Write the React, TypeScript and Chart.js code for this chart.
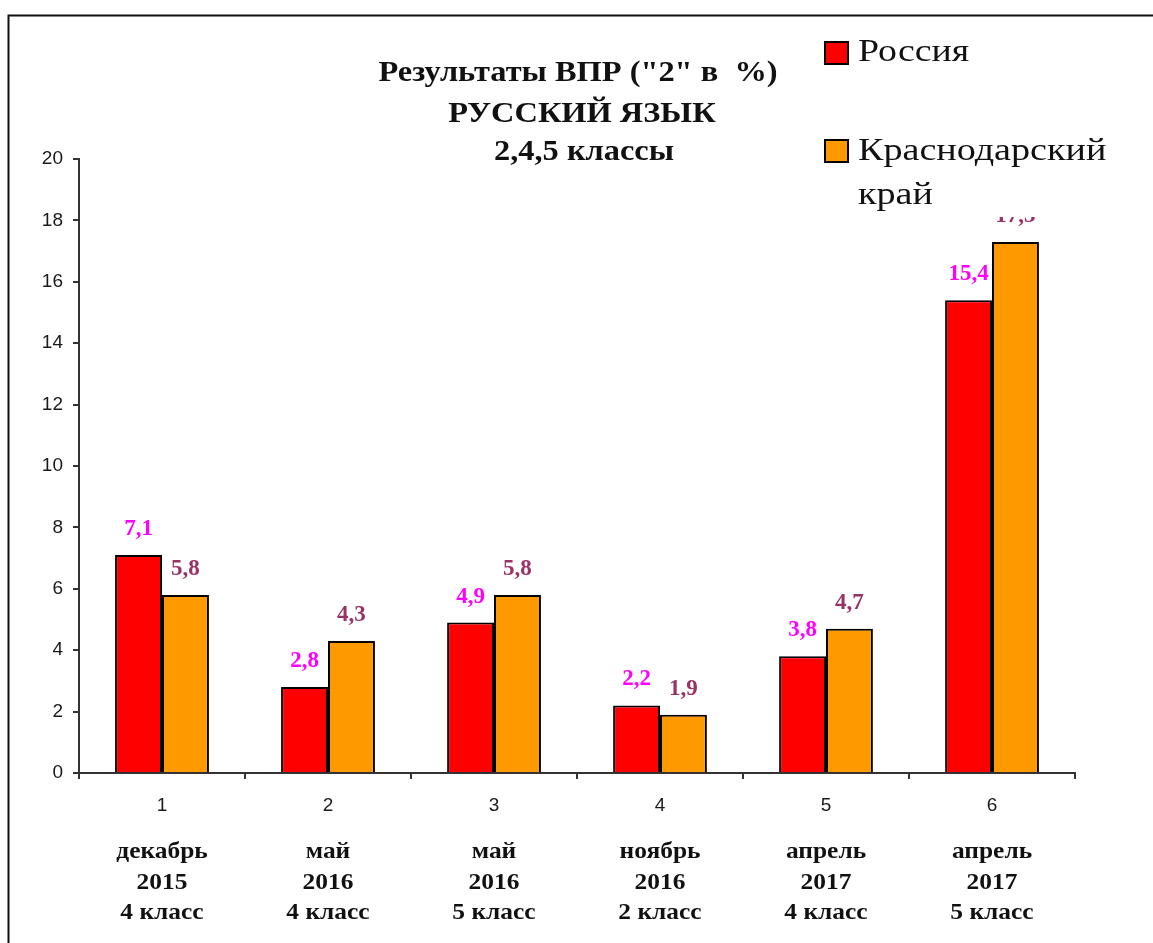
import React, { useEffect, useRef } from "react";
import { Chart, registerables } from "chart.js";

Chart.register(...registerables);

const categories = ["1", "2", "3", "4", "5", "6"];
const months = ["декабрь", "май", "май", "ноябрь", "апрель", "апрель"];
const years = ["2015", "2016", "2016", "2016", "2017", "2017"];
const grades = ["4 класс", "4 класс", "5 класс", "2 класс", "4 класс", "5 класс"];
const russia = [7.1, 2.8, 4.9, 2.2, 3.8, 15.4];
const krasnodar = [5.8, 4.3, 5.8, 1.9, 4.7, 17.3];
const seriesNames = ["Россия", "Краснодарский край"];
const titleLines = ['Результаты ВПР ("2" в  %)', "РУССКИЙ ЯЗЫК", "2,4,5 классы"];
const yTicks = [0, 2, 4, 6, 8, 10, 12, 14, 16, 18, 20];

const SERIF = '"Liberation Serif", "Times New Roman", serif';
const SANS = '"Liberation Sans", Arial, sans-serif';
const RED = "#FF0000";
const ORANGE = "#FF9900";
const LABEL_COLORS = ["#FF00FF", "#993366"];

const fmt = (v: number) => String(v).replace(".", ",");

function stretchedText(ctx: any, text: string, x: number, y: number, sx: number, align: string) {
  ctx.save();
  ctx.translate(x, y);
  ctx.scale(sx, 1);
  ctx.textAlign = align;
  ctx.fillText(text, 0, 0);
  ctx.restore();
}

const decorPlugin = {
  id: "decor",
  beforeDraw(chart: any) {
    const ctx = chart.ctx;
    ctx.save();
    ctx.fillStyle = "#ffffff";
    ctx.fillRect(0, 0, chart.width, chart.height);
    ctx.strokeStyle = "#111";
    ctx.lineWidth = 2;
    ctx.strokeRect(8.5, 15.5, 2000, 2000);
    ctx.restore();
  },
  afterDatasetsDraw(chart: any) {
    const ctx = chart.ctx;
    ctx.save();
    ctx.font = `bold 23px ${SERIF}`;
    ctx.textAlign = "center";
    ctx.textBaseline = "middle";
    chart.data.datasets.forEach((ds: any, di: number) => {
      const meta = chart.getDatasetMeta(di);
      ctx.fillStyle = LABEL_COLORS[di];
      meta.data.forEach((el: any, i: number) => {
        ctx.fillText(fmt(ds.data[i]), el.x, el.y - 26);
      });
    });
    ctx.restore();
  },
  afterDraw(chart: any) {
    const ctx = chart.ctx;
    const xs = chart.scales.x;
    const area = chart.chartArea;
    ctx.save();
    // category sub-labels
    ctx.font = `bold 24px ${SERIF}`;
    ctx.fillStyle = "#111";
    ctx.textBaseline = "middle";
    categories.forEach((_, i) => {
      const x = xs.getPixelForValue(i);
      stretchedText(ctx, months[i], x, area.bottom + 79, 1.06, "center");
      stretchedText(ctx, years[i], x, area.bottom + 110, 1.06, "center");
      stretchedText(ctx, grades[i], x, area.bottom + 140, 1.06, "center");
    });
    // title
    ctx.font = `bold 30px ${SERIF}`;
    stretchedText(ctx, titleLines[0], 578, 73, 1.08, "center");
    stretchedText(ctx, titleLines[1], 582, 114, 1.08, "center");
    stretchedText(ctx, titleLines[2], 584, 152, 1.08, "center");
    // legend
    ctx.fillStyle = "#ffffff";
    ctx.fillRect(812, 24, 315, 193);
    const sq = [
      { y: 42, color: RED },
      { y: 140, color: ORANGE },
    ];
    sq.forEach((s) => {
      ctx.fillStyle = s.color;
      ctx.fillRect(825, s.y, 23, 22);
      ctx.strokeStyle = "#000";
      ctx.lineWidth = 2;
      ctx.strokeRect(825, s.y, 23, 22);
    });
    ctx.font = `31px ${SERIF}`;
    ctx.fillStyle = "#111";
    const parts = seriesNames[1].split(" ");
    stretchedText(ctx, seriesNames[0], 858, 53, 1.22, "left");
    stretchedText(ctx, parts[0], 858, 152, 1.23, "left");
    stretchedText(ctx, parts[1], 858, 196, 1.23, "left");
    ctx.restore();
  },
};

export default function App() {
  const ref = useRef<HTMLCanvasElement | null>(null);
  useEffect(() => {
    if (!ref.current) return;
    const chart = new Chart(ref.current, {
      type: "bar",
      data: {
        labels: categories,
        datasets: [
          {
            label: seriesNames[0],
            data: russia,
            backgroundColor: RED,
            borderColor: "#000",
            borderWidth: 2,
            categoryPercentage: 0.565,
            barPercentage: 1,
          },
          {
            label: seriesNames[1],
            data: krasnodar,
            backgroundColor: ORANGE,
            borderColor: "#000",
            borderWidth: 2,
            categoryPercentage: 0.565,
            barPercentage: 1,
          },
        ],
      },
      options: {
        responsive: false,
        animation: false,
        devicePixelRatio: 1,
        layout: { padding: { top: 159, right: 78, left: 0, bottom: 0 } },
        plugins: {
          legend: { display: false },
          title: { display: false },
          tooltip: { enabled: false },
        },
        scales: {
          x: {
            afterFit: (s: any) => {
              s.height = 170;
            },
            grid: {
              display: true,
              drawOnChartArea: false,
              drawTicks: true,
              tickLength: 6,
              color: "#333",
              lineWidth: 2,
              offset: true,
            },
            border: { display: true, color: "#333", width: 2 },
            ticks: {
              color: "#1a1a1a",
              font: { family: SANS, size: 19 },
              padding: 15,
            },
          },
          y: {
            min: 0,
            max: 20,
            afterFit: (s: any) => {
              s.width = 79;
            },
            afterBuildTicks: (s: any) => {
              s.ticks = yTicks.map((v) => ({ value: v }));
            },
            grid: {
              display: true,
              drawOnChartArea: false,
              drawTicks: true,
              tickLength: 6,
              color: "#333",
              lineWidth: 2,
            },
            border: { display: true, color: "#333", width: 2 },
            ticks: {
              color: "#1a1a1a",
              font: { family: SANS, size: 19 },
              padding: 10,
            },
          },
        },
      },
      plugins: [decorPlugin],
    });
    return () => chart.destroy();
  }, []);
  return (
    <div style={{ position: "fixed", left: 0, top: 0, width: 1153, height: 943, background: "#fff" }}>
      <canvas ref={ref} width={1153} height={943} style={{ display: "block" }} />
    </div>
  );
}
